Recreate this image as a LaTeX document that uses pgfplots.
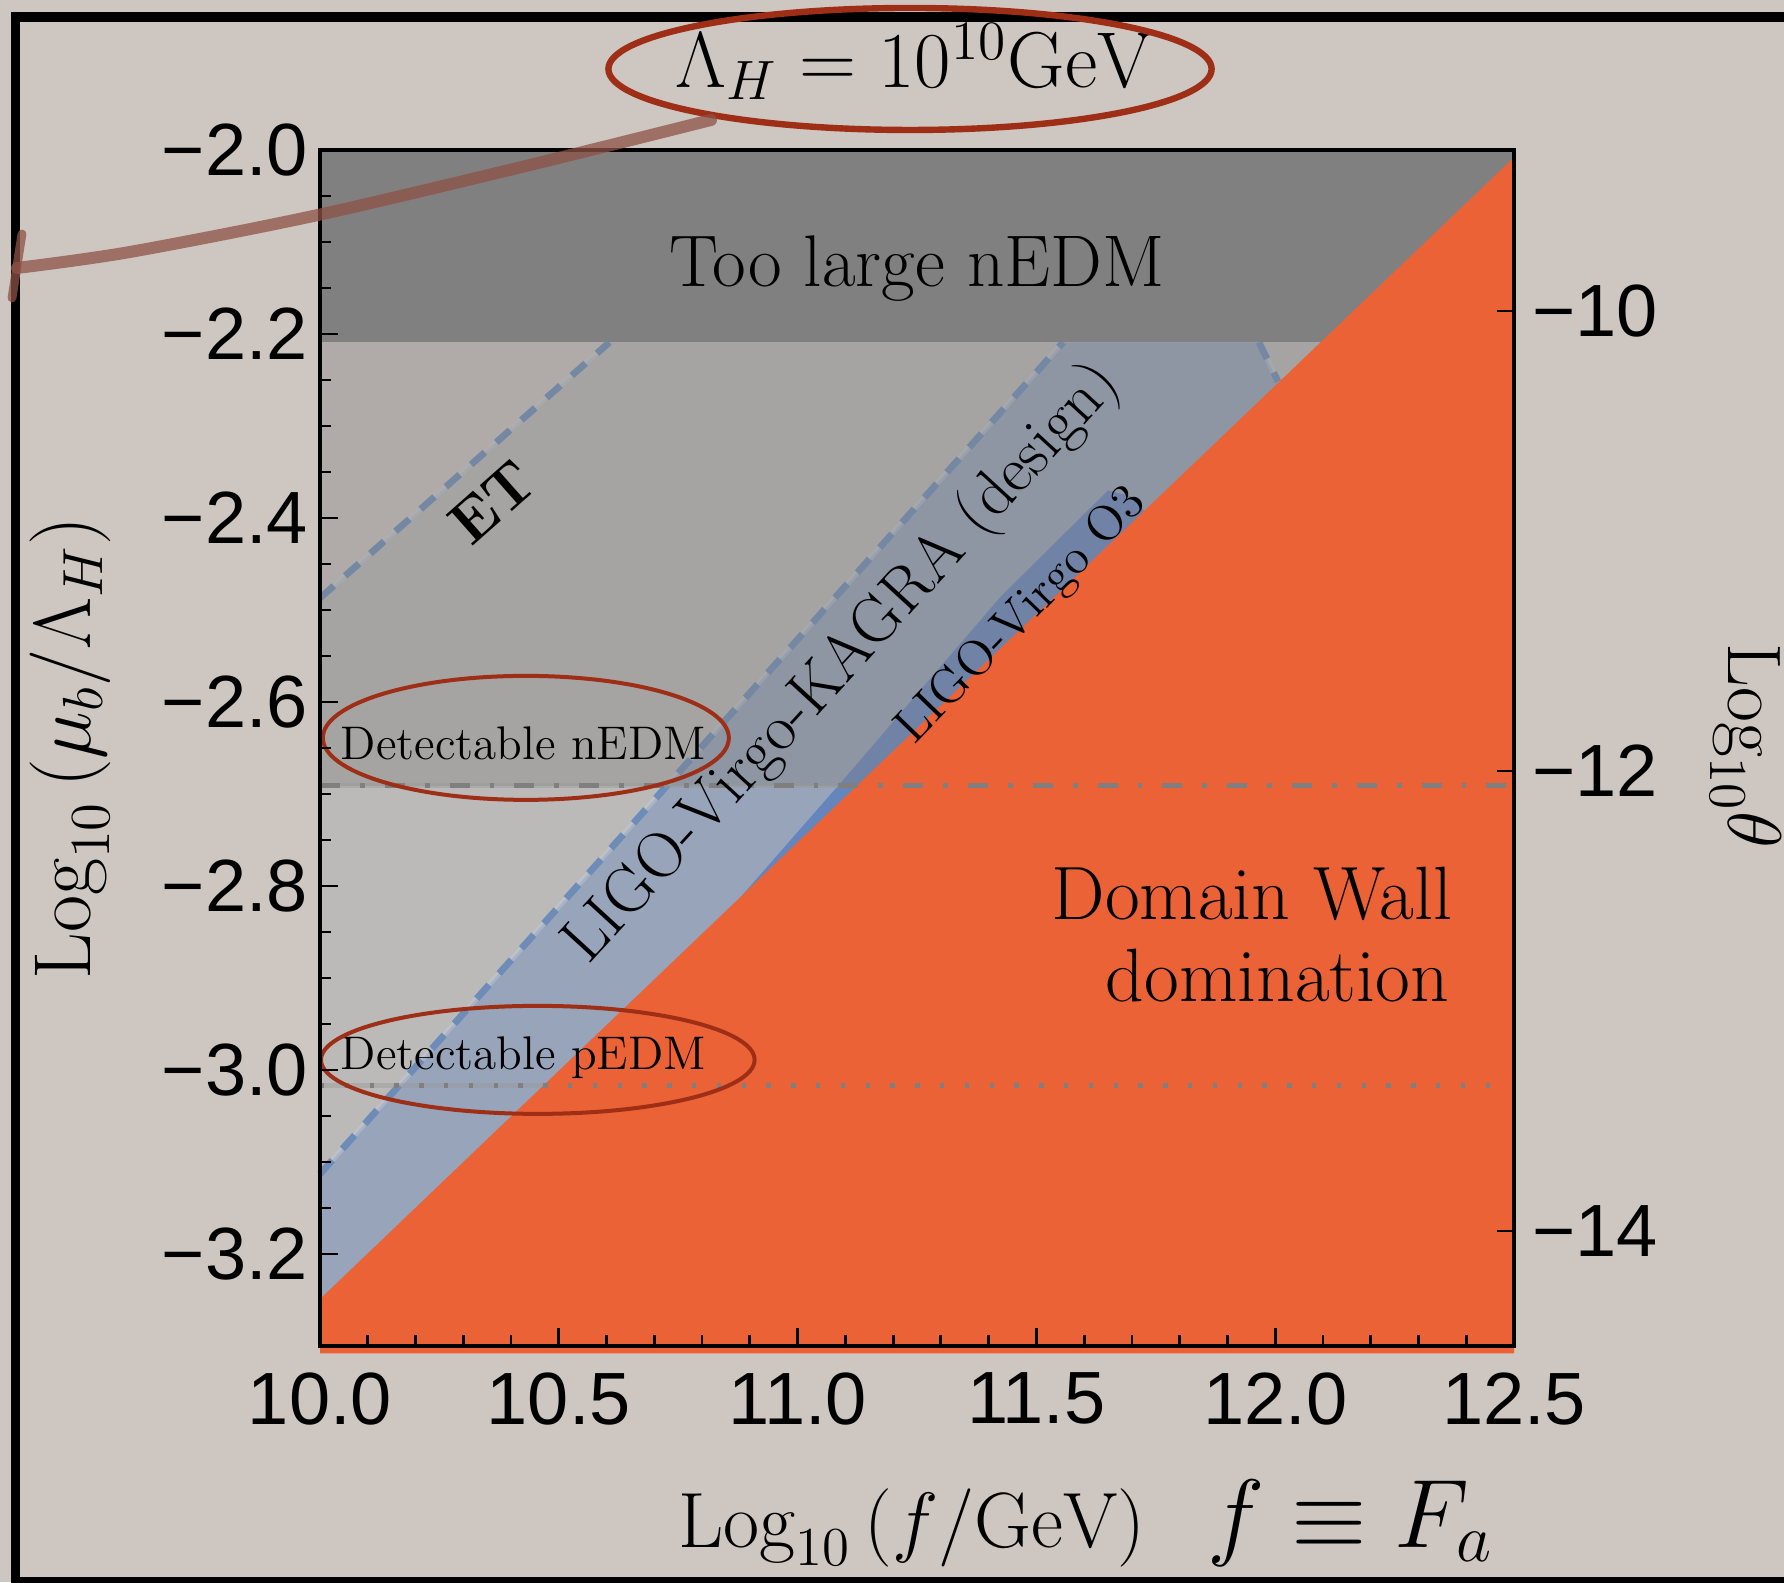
\RequirePackage{fix-cm}
\documentclass[border=0pt]{standalone}
\usepackage{fontspec}
\usepackage{pgfplots}
\pgfplotsset{compat=1.18}
\newfontfamily\ticksf{Liberation Sans}
\definecolor{bg}{HTML}{CEC6C1}
\definecolor{etfill}{HTML}{BBBAB9}
\definecolor{lvkfill}{HTML}{97A4B9}
\definecolor{othree}{HTML}{6585BD}
\definecolor{dashblue}{HTML}{6E8CB8}
\definecolor{darkband}{HTML}{808080}
\definecolor{overlay}{HTML}{828282}
\definecolor{dwall}{HTML}{EB6236}
\definecolor{ellred}{HTML}{9E2E16}
\definecolor{arrowbrown}{HTML}{8E5246}
\definecolor{lgray}{HTML}{7F7F7F}
\begin{document}
\begin{tikzpicture}
\fill[bg] (0pt,0pt) rectangle (446pt,395.5pt);
\useasboundingbox (0pt,0pt) rectangle (446pt,395.5pt);
\begin{axis}[
  at={(80pt,59pt)}, anchor=south west,
  scale only axis, width=298.5pt, height=299pt,
  xmin=10, xmax=12.5, ymin=-3.3, ymax=-2.0,
  clip=false, axis on top,
  axis line style={line width=0.8pt},
  tick style={black, line width=0.7pt},
  tick align=inside,
  xtick pos=bottom, ytick pos=left,
  xtick={10,10.5,11,11.5,12,12.5},
  xticklabels={10.0,10.5,11.0,11.5,12.0,12.5},
  minor x tick num=4,
  ytick={-3.2,-3.0,-2.8,-2.6,-2.4,-2.2,-2.0},
  yticklabels={−3.2,−3.0,−2.8,−2.6,−2.4,−2.2,−2.0},
  minor y tick num=3,
  major tick length=4.5pt, minor tick length=2.7pt,
  tick label style={font=\ticksf\fontsize{18.5}{20}\selectfont},
  xticklabel style={yshift=-3.2pt},
  yticklabel style={xshift=0.5pt},
]
% ET sensitivity region (right of ET line)
\addplot[fill=etfill, draw=none] coordinates {(10,-2.487) (11.061,-2.0) (12.5,-2.0) (12.5,-3.3) (10,-3.3)} -- cycle;
% LIGO-Virgo-KAGRA design region
\addplot[fill=lvkfill, draw=none] coordinates {(10,-3.3) (10,-3.113) (11.556,-2.209) (11.966,-2.209) (12.006,-2.252) (12.006,-3.3)} -- cycle;
% LIGO-Virgo O3 region
\addplot[fill=othree, draw=none] coordinates {(10.88,-2.8125) (11.09,-2.688) (11.426,-2.485) (11.65,-2.370) (11.702,-2.377) (11.725,-2.392) (11.9,-2.6) (10.88,-2.8125)} -- cycle;
% sensitivity curves
\addplot[white!60!dashblue, opacity=0.35, line width=1.3pt] coordinates {(10,-2.487) (10.606,-2.209)};
\addplot[dashblue, line width=1.7pt, dash pattern=on 4.6pt off 3.8pt] coordinates {(10,-2.487) (10.606,-2.209)};
\addplot[white!60!dashblue, opacity=0.35, line width=1.3pt] coordinates {(10,-3.113) (11.556,-2.209)};
\addplot[dashblue, line width=1.7pt, dash pattern=on 4.6pt off 3.8pt] coordinates {(10,-3.113) (11.556,-2.209)};
\addplot[white!60!dashblue, opacity=0.35, line width=1.3pt] coordinates {(11.966,-2.209) (12.006,-2.252)};
\addplot[dashblue, line width=1.7pt, dash pattern=on 4.6pt off 3.8pt] coordinates {(11.966,-2.209) (12.006,-2.252)};
% region above detectable nEDM
\addplot[fill=overlay, fill opacity=0.385, draw=none] coordinates {(10,-2.691) (10,-2.209) (12.5,-2.209) (12.5,-2.691)} -- cycle;
% translucent bands of EDM lines
\addplot[gray!80, opacity=0.45, line width=1.3pt] coordinates {(10,-2.691) (11.124,-2.691)};
\addplot[gray!80, opacity=0.45, line width=1.2pt] coordinates {(10,-3.017) (10.467,-3.017)};
% too large nEDM
\addplot[fill=darkband, draw=none] coordinates {(10,-2.209) (10,-2.0) (12.5,-2.0) (12.5,-2.209)} -- cycle;
% domain wall domination
\addplot[fill=dwall, draw=none] coordinates {(10,-3.308) (10,-3.249) (12.5,-2.008) (12.5,-3.308)} -- cycle;
% EDM lines
\addplot[lgray, line width=1.25pt, dash pattern=on 5pt off 5pt on 1.2pt off 5pt] coordinates {(10,-2.691) (12.5,-2.691)};
\addplot[lgray, line width=1.1pt, dash pattern=on 1.1pt off 5.1pt] coordinates {(10,-3.017) (12.458,-3.017)};
% labels
\node[anchor=base, font=\fontsize{18.3}{21}\selectfont] at (axis cs:11.25,-2.148) {Too large nEDM};
\node[rotate=41.5, font=\bfseries\fontsize{15}{17}\selectfont] at (axis cs:10.361,-2.383) {ET};
\node[rotate=47.5, font=\fontsize{16.2}{18}\selectfont] at (axis cs:11.095,-2.559) {LIGO-Virgo-KAGRA (design)};
\node[rotate=46, font=\fontsize{12.4}{14}\selectfont] at (axis cs:11.47,-2.507) {LIGO-Virgo O3};
\node[anchor=base west, inner sep=0pt, font=\fontsize{11.8}{13}\selectfont] at (axis cs:10.042,-2.662) {Detectable nEDM};
\node[anchor=base west, inner sep=0pt, font=\fontsize{11.8}{13}\selectfont] at (axis cs:10.042,-2.999) {Detectable pEDM};
\node[anchor=base east, inner sep=0pt, font=\fontsize{18.9}{22}\selectfont] at (axis cs:12.372,-2.836) {Domain Wall};
\node[anchor=base east, inner sep=0pt, font=\fontsize{18.9}{22}\selectfont] at (axis cs:12.365,-2.926) {domination};
% hand-drawn ellipses
\draw[ellred, line width=1pt] (axis cs:10.431,-2.639) ellipse [x radius=50.75pt, y radius=15.5pt];
\draw[ellred, line width=1pt] (axis cs:10.456,-2.989) ellipse [x radius=54.2pt, y radius=13.5pt];
\end{axis}
\begin{axis}[
  at={(80pt,59pt)}, anchor=south west,
  scale only axis, width=298.5pt, height=299pt,
  xmin=10, xmax=12.5, ymin=-14.5, ymax=-9.3,
  axis x line=none, axis y line*=right,
  axis line style={line width=0.8pt},
  tick style={black, line width=0.7pt},
  tick align=inside, major tick length=4.2pt,
  ytick={-14,-12,-10}, yticklabels={−14,−12,−10},
  tick label style={font=\ticksf\fontsize{18.5}{20}\selectfont},
  yticklabel style={xshift=1.1pt},
]
\end{axis}
% axis labels
\node[rotate=90, inner sep=0pt, font=\fontsize{20.2}{23}\selectfont] at (17.6pt,208.5pt) {$\mathrm{Log}_{10}\left(\mu_b/\Lambda_H\right)$};
\node[rotate=-90, inner sep=0pt, font=\fontsize{19}{22}\selectfont] at (436.5pt,209pt) {$\mathrm{Log}_{10}\theta$};
\node[anchor=base west, inner sep=0pt] at (169.5pt,8.75pt) {{\fontsize{19.6}{22}\selectfont $\mathrm{Log}_{10}\left(f/\mathrm{GeV}\right)$}\hspace{15.5pt}{\fontsize{24.3}{28}\selectfont $f\equiv F_a$}};
\node[anchor=base, font=\fontsize{19.8}{23}\selectfont] at (228.5pt,373.5pt) {$\Lambda_H = 10^{10}\mathrm{GeV}$};
% frame
\draw[line width=2.3pt] (3.9pt,-1pt) -- (3.9pt,392.5pt);
\draw[line width=2.5pt] (2.75pt,391.25pt) -- (447pt,391.25pt);
\draw[line width=1.5pt] (2.75pt,0.4pt) -- (447pt,0.4pt);
% hand-drawn annotation
\draw[ellred, line width=1.6pt] (227.5pt,378.25pt) ellipse [x radius=75.4pt, y radius=15.25pt];
\draw[arrowbrown, opacity=0.75, line width=3pt, line cap=round] plot[smooth] coordinates {(177.75pt,365.5pt) (132.5pt,354.25pt) (79.5pt,341.75pt) (32.5pt,332.5pt) (4.25pt,328.5pt)};
\draw[arrowbrown, opacity=0.75, line width=2.2pt, line cap=round] (5.5pt,337pt) -- (3pt,321pt);
\end{tikzpicture}
\end{document}
